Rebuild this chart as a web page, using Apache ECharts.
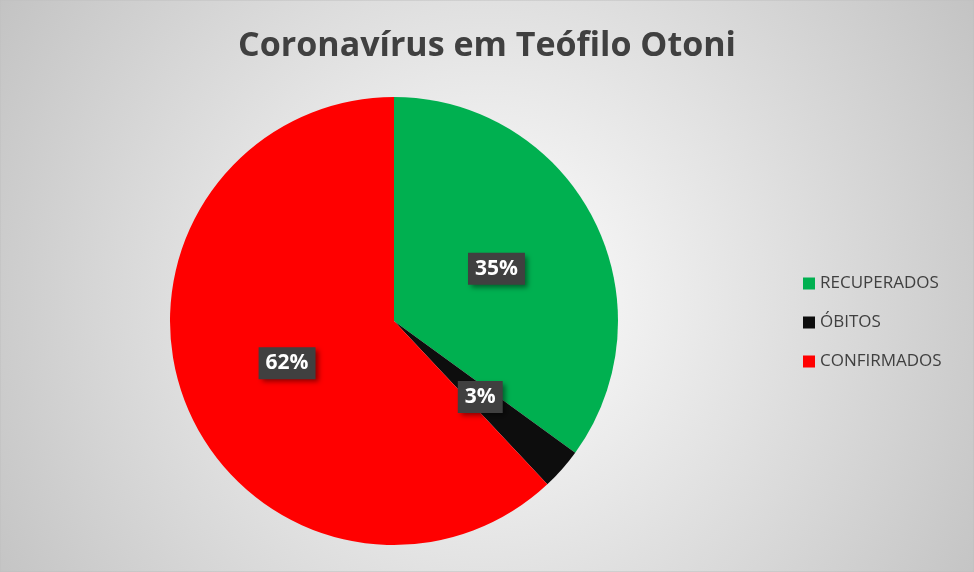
<!DOCTYPE html>
<html>
<head>
<meta charset="utf-8">
<script src="https://cdn.jsdelivr.net/npm/echarts@6/dist/echarts.min.js"></script>
<style>
  html, body { margin: 0; padding: 0; }
  #chart { width: 974px; height: 572px; }
</style>
</head>
<body>
<div id="chart"></div>
<script>
// percentages as shown on the slices
const categories = ['RECUPERADOS', 'ÓBITOS', 'CONFIRMADOS']
const values = [35, 3, 62]
const colors = ['#00b050', '#0d0d0d', '#ff0000']

const chart = echarts.init(document.getElementById('chart'))

const option = {
  animation: false,
  graphic: [
    {
      type: 'rect',
      z: -10,
      shape: { x: 0, y: 0, width: 974, height: 572 },
      style: {
        fill: new echarts.graphic.RadialGradient(0.5, 0.52, 1.0, [
          { offset: 0, color: '#ffffff' },
          { offset: 1, color: '#c3c3c3' }
        ]),
        stroke: '#bfbfbf',
        lineWidth: 1
      }
    }
  ],
  title: {
    text: 'Coronavírus em Teófilo Otoni',
    left: 'center',
    top: 24,
    textStyle: {
      fontFamily: 'Open Sans',
      fontWeight: 'bold',
      fontSize: 34,
      color: '#404040'
    }
  },
  legend: {
    orient: 'vertical',
    left: 798,
    top: 270,
    icon: 'rect',
    itemWidth: 12,
    itemHeight: 12,
    itemGap: 22,
    data: categories,
    textStyle: {
      fontFamily: 'Open Sans',
      fontSize: 17,
      color: '#404040'
    }
  },
  series: [
    {
      type: 'pie',
      center: [394, 321],
      radius: 224,
      startAngle: 90,
      clockwise: true,
      avoidLabelOverlap: false,
      emphasis: { disabled: true },
      label: {
        show: true,
        position: 'inside',
        formatter: '{c}%',
        fontFamily: 'Open Sans',
        fontWeight: 'bold',
        fontSize: 21,
        color: '#ffffff',
        backgroundColor: '#404040',
        padding: [6, 7, 5, 7],
        shadowColor: 'rgba(0,0,0,0.45)',
        shadowBlur: 5,
        shadowOffsetX: 3,
        shadowOffsetY: 3
      },
      labelLine: { show: false },
      data: categories.map((name, i) => ({
        name,
        value: values[i],
        itemStyle: { color: colors[i] }
      }))
    }
  ]
}

chart.setOption(option)
</script>
</body>
</html>
